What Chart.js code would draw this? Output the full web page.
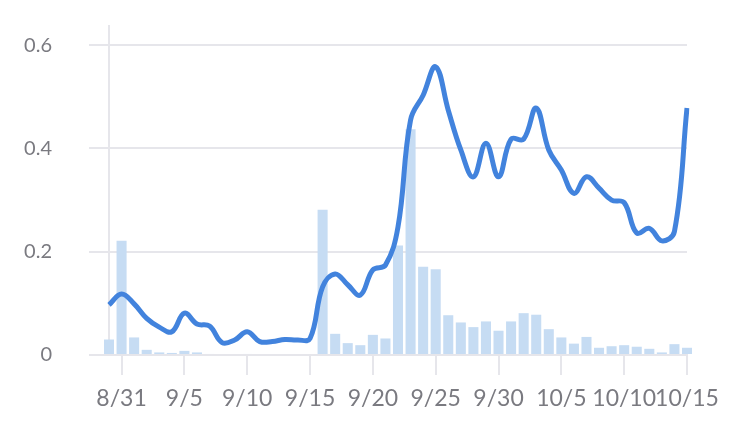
<!DOCTYPE html>
<html>
<head>
<meta charset="utf-8">
<script src="https://cdn.jsdelivr.net/npm/chart.js@4"></script>
<style>
  html, body { margin: 0; padding: 0; background: #fff; }
  #wrap { width: 729px; height: 423px; position: relative; }
</style>
</head>
<body>
<div id="wrap"><canvas id="c"></canvas></div>
<script>
const dates = [
  "8/30","8/31","9/1","9/2","9/3","9/4","9/5","9/6","9/7","9/8","9/9","9/10","9/11","9/12","9/13","9/14","9/15",
  "9/16","9/17","9/18","9/19","9/20","9/21","9/22","9/23","9/24","9/25","9/26","9/27","9/28","9/29","9/30",
  "10/1","10/2","10/3","10/4","10/5","10/6","10/7","10/8","10/9","10/10","10/11","10/12","10/13","10/14","10/15"
];
const barValues = [
  0.030, 0.221, 0.034, 0.010, 0.005, 0.004, 0.008, 0.005, 0.002, 0.000, 0.000, 0.002, 0.000, 0.000, 0.000, 0.000, 0.000,
  0.281, 0.041, 0.023, 0.019, 0.039, 0.032, 0.212, 0.437, 0.171, 0.166, 0.077, 0.063, 0.054, 0.065, 0.047,
  0.065, 0.081, 0.078, 0.050, 0.034, 0.022, 0.035, 0.014, 0.017, 0.019, 0.016, 0.012, 0.005, 0.021, 0.014
];
const lineValues = [
  0.097, 0.118, 0.099, 0.071, 0.054, 0.045, 0.081, 0.060, 0.056, 0.024, 0.029, 0.045, 0.026, 0.026, 0.030, 0.029, 0.032,
  0.132, 0.157, 0.136, 0.116, 0.165, 0.174, 0.248, 0.455, 0.503, 0.558, 0.474, 0.397, 0.345, 0.410, 0.345,
  0.418, 0.418, 0.478, 0.397, 0.358, 0.313, 0.345, 0.323, 0.300, 0.295, 0.236, 0.245, 0.221, 0.239, 0.478
];
const xTickLabels = ["8/31","9/5","9/10","9/15","9/20","9/25","9/30","10/5","10/10","10/15"];
const yTickValues = [0, 0.2, 0.4, 0.6];

const gridColor = '#e6e6eb';
const textColor = '#7a7a80';

new Chart(document.getElementById('c'), {
  type: 'bar',
  data: {
    labels: dates,
    datasets: [
      {
        type: 'line',
        data: lineValues,
        borderColor: '#4283dd',
        borderWidth: 5,
        pointRadius: 0,
        tension: 0.4,
        fill: false,
        order: 1
      },
      {
        type: 'bar',
        data: barValues,
        backgroundColor: '#c6dcf3',
        barPercentage: 0.8,
        categoryPercentage: 1.0,
        clip: false,
        order: 2
      }
    ]
  },
  options: {
    responsive: true,
    maintainAspectRatio: false,
    animation: false,
    events: [],
    layout: { padding: { left: 0, right: 42, top: 26, bottom: 0 } },
    plugins: { legend: { display: false }, tooltip: { enabled: false } },
    scales: {
      x: {
        offset: false,
        afterBuildTicks: s => {
          s.ticks = s.ticks.filter(t => xTickLabels.includes(dates[t.value]));
        },
        afterFit: s => { s.height = 68; },
        grid: { offset: false, drawOnChartArea: false, drawTicks: true, tickLength: 20, color: gridColor, lineWidth: 2 },
        border: { display: true, color: gridColor, width: 2 },
        ticks: {
          autoSkip: false, maxRotation: 0, minRotation: 0, padding: 10,
          color: textColor,
          font: { family: 'Lato', size: 23 }
        }
      },
      y: {
        min: 0,
        max: 0.637,
        afterBuildTicks: s => { s.ticks = yTickValues.map(v => ({ value: v })); },
        afterFit: s => { s.width = 109; s.paddingTop = 10; s.paddingBottom = 10; },
        grid: { color: gridColor, lineWidth: 2, tickLength: 20, drawTicks: true },
        border: { display: true, color: gridColor, width: 2 },
        ticks: {
          padding: 37,
          color: textColor,
          font: { family: 'Lato', size: 20 },
          callback: v => String(v)
        }
      }
    }
  }
});
</script>
</body>
</html>
